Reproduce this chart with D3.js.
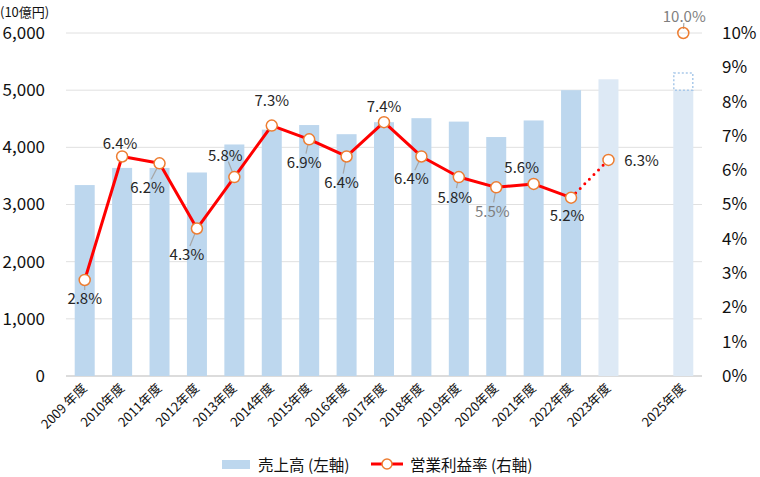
<!DOCTYPE html>
<html>
<head>
<meta charset="utf-8">
<script src="https://cdn.jsdelivr.net/npm/d3@7"></script>
<style>
  body { margin: 0; background: #fff; }
  svg { display: block; font-family: 'Noto Sans CJK JP', 'Noto Sans', sans-serif; }
</style>
</head>
<body>
<div id="chart"></div>
<script>
/* global d3 */

const years = ['2009 年度', '2010年度', '2011年度', '2012年度', '2013年度', '2014年度', '2015年度',
  '2016年度', '2017年度', '2018年度', '2019年度', '2020年度', '2021年度', '2022年度', '2023年度', '2024', '2025年度']
const sales = [3340, 3640, 3640, 3560, 4050, 4310, 4390, 4230, 4440, 4510, 4450, 4180, 4470, 5000, 5190, null, 5000]
const salesTarget2025 = 5300
const rates = [2.8, 6.4, 6.2, 4.3, 5.8, 7.3, 6.9, 6.4, 7.4, 6.4, 5.8, 5.5, 5.6, 5.2, 6.3, null, 10.0]
const planYears = ['2023年度', '2025年度']
const leftTicks = [0, 1000, 2000, 3000, 4000, 5000, 6000]
const rightTicks = [0, 1, 2, 3, 4, 5, 6, 7, 8, 9, 10]

// label placement relative to the marker: [dx, dy, leader line]
const labelOffsets = [
  [0, 18, true], [-2, -14, false], [-12, 23, true], [-10, 25, true], [-9, -23, true],
  [0, -26, false], [-5, 22, true], [-5, 25, true], [0, -17, false], [-10, 21, true],
  [-4, 19, true], [-4, 23, true], [-12, -17, false], [-4, 17, false], [33, 0, false],
  null, [1, -18, true]
]
const grayLabels = ['2020年度', '2025年度']

const width = 760
const height = 477
const margin = {left: 66, right: 58, top: 33, bottom: 101}

const svg = d3.select('#chart').append('svg')
  .attr('width', width)
  .attr('height', height)

const band = d3.scaleBand().domain(years).range([margin.left, width - margin.right])
const cx = d => band(d) + band.bandwidth() / 2

const yL = d3.scaleLinear().domain([0, 6000]).range([height - margin.bottom, margin.top])
const yR = d3.scaleLinear().domain([0, 10]).range([height - margin.bottom, margin.top])

// grid
svg.append('g')
  .selectAll('line')
  .data(leftTicks)
  .join('line')
  .attr('x1', margin.left)
  .attr('x2', width - margin.right)
  .attr('y1', d => yL(d))
  .attr('y2', d => yL(d))
  .attr('stroke', d => d === 0 ? '#d0d0d0' : '#e0e0e0')
  .attr('stroke-width', d => d === 0 ? 1.5 : 1)

// bars
const barRows = years.map((y, i) => ({year: y, v: sales[i]})).filter(d => d.v != null)
svg.append('g')
  .selectAll('rect')
  .data(barRows)
  .join('rect')
  .attr('x', d => cx(d.year) - 10)
  .attr('width', 20)
  .attr('y', d => yL(d.v))
  .attr('height', d => yL(0) - yL(d.v))
  .attr('fill', d => planYears.includes(d.year) ? '#dde9f5' : '#bdd7ee')

// 2025 target outline
svg.append('rect')
  .attr('x', cx('2025年度') - 9.5)
  .attr('width', 19)
  .attr('y', yL(salesTarget2025))
  .attr('height', yL(5000) - yL(salesTarget2025))
  .attr('fill', 'none')
  .attr('stroke', '#a9c9ea')
  .attr('stroke-width', 1.5)
  .attr('stroke-dasharray', '2,2')

// left axis
svg.append('g')
  .attr('transform', `translate(${margin.left - 21},0)`)
  .call(d3.axisLeft(yL).tickValues(leftTicks).tickSize(0).tickPadding(0).tickFormat(d3.format(',')))
  .call(g => g.select('.domain').remove())
  .selectAll('text')
  .attr('font-size', 17)
  .attr('font-family', 'Noto Sans CJK JP')
  .attr('fill', '#111')

// right axis
svg.append('g')
  .attr('transform', `translate(${width - margin.right + 20},0)`)
  .call(d3.axisRight(yR).tickValues(rightTicks).tickSize(0).tickPadding(0).tickFormat(d => d + '%'))
  .call(g => g.select('.domain').remove())
  .selectAll('text')
  .attr('font-size', 17)
  .attr('font-family', 'Noto Sans CJK JP')
  .attr('fill', '#111')

svg.append('text')
  .attr('x', 0)
  .attr('y', 17)
  .attr('font-size', 13)
  .attr('fill', '#111')
  .text('(10億円)')

// x labels
svg.append('g')
  .selectAll('text')
  .data(years.filter(y => y !== '2024'))
  .join('text')
  .attr('transform', d => `translate(${cx(d) + 3},${yL(0) + 13}) rotate(-45)`)
  .attr('text-anchor', 'end')
  .attr('font-size', 13)
  .attr('fill', '#111')
  .text(d => d)

// rate line
const pts = years.map((y, i) => ({year: y, v: rates[i], i}))
const line = d3.line().x(d => cx(d.year)).y(d => yR(d.v))

svg.append('path')
  .datum(pts.slice(0, 14))
  .attr('d', line)
  .attr('fill', 'none')
  .attr('stroke', '#ff0000')
  .attr('stroke-width', 3)
  .attr('stroke-linejoin', 'round')

svg.append('path')
  .datum(pts.slice(13, 15))
  .attr('d', line)
  .attr('fill', 'none')
  .attr('stroke', '#ff0000')
  .attr('stroke-width', 3)
  .attr('stroke-linecap', 'round')
  .attr('stroke-dasharray', '0,6.5')

const ptRows = pts.filter(d => d.v != null)

// leader lines
svg.append('g')
  .selectAll('line')
  .data(ptRows.filter(d => labelOffsets[d.i][2]))
  .join('line')
  .each(function (d) {
    const [dx, dy] = labelOffsets[d.i]
    const len = Math.sqrt(dx * dx + dy * dy)
    const ux = dx / len
    const uy = dy / len
    d3.select(this)
      .attr('x1', cx(d.year) + ux * 4)
      .attr('y1', yR(d.v) + uy * 4)
      .attr('x2', cx(d.year) + ux * (len - 8))
      .attr('y2', yR(d.v) + uy * (len - 8))
  })
  .attr('stroke', '#a6a6a6')
  .attr('stroke-width', 1.2)

svg.append('g')
  .selectAll('circle')
  .data(ptRows)
  .join('circle')
  .attr('cx', d => cx(d.year))
  .attr('cy', d => yR(d.v))
  .attr('r', 5.5)
  .attr('fill', d => d.year === '2025年度' ? 'none' : '#fff')
  .attr('stroke', '#ed7d31')
  .attr('stroke-width', 1.5)

svg.append('g')
  .selectAll('text')
  .data(ptRows)
  .join('text')
  .attr('x', d => cx(d.year) + labelOffsets[d.i][0])
  .attr('y', d => yR(d.v) + labelOffsets[d.i][1])
  .attr('text-anchor', 'middle')
  .attr('dominant-baseline', 'central')
  .attr('font-size', 15)
  .attr('fill', d => grayLabels.includes(d.year) ? '#7f7f7f' : '#262626')
  .text(d => d.v.toFixed(1) + '%')

// legend
const lg = svg.append('g').attr('font-size', 15.5).attr('fill', '#111')
lg.append('rect').attr('x', 222).attr('y', 460).attr('width', 28).attr('height', 9).attr('fill', '#bdd7ee')
lg.append('text').attr('x', 258).attr('y', 464).attr('dominant-baseline', 'central').text('売上高 (左軸)')
lg.append('line').attr('x1', 371).attr('x2', 403).attr('y1', 464).attr('y2', 464)
  .attr('stroke', '#ff0000').attr('stroke-width', 3)
lg.append('circle').attr('cx', 387).attr('cy', 464).attr('r', 5).attr('fill', '#fff')
  .attr('stroke', '#ed7d31').attr('stroke-width', 1.5)
lg.append('text').attr('x', 410).attr('y', 464).attr('dominant-baseline', 'central').text('営業利益率 (右軸)')
</script>
</body>
</html>
